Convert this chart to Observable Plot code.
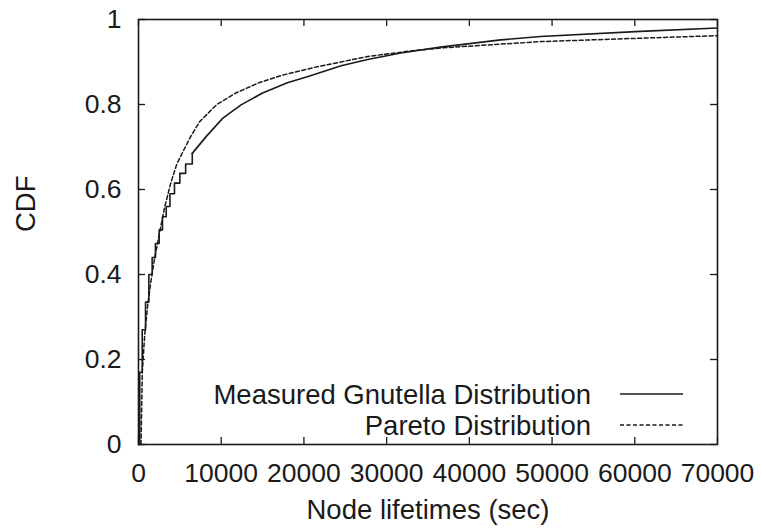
<!DOCTYPE html>
<html>
<head>
<meta charset="utf-8">
<script src="https://cdn.jsdelivr.net/npm/d3@7"></script>
<script src="https://cdn.jsdelivr.net/npm/@observablehq/plot@0.6"></script>
<style>
  html, body { margin: 0; padding: 0; background: #fff; }
  #chart svg { display: block; }
</style>
</head>
<body>
<div id="chart"></div>
<script>
// Measured Gnutella node lifetimes: empirical CDF (seconds, cumulative fraction)
const measuredSec = [0, 150, 450, 850, 1250, 1650, 2050, 2500, 2900, 3350, 3800, 4350, 5000, 5700, 6500,
  8200, 10200, 12400, 15000, 18000, 20500, 24500, 27700, 31700, 36500, 43800, 48600, 60700, 70000];
const measuredCdf = [0, 0.17, 0.27, 0.335, 0.40, 0.44, 0.473, 0.505, 0.536, 0.56, 0.59, 0.615, 0.638, 0.66, 0.685,
  0.725, 0.768, 0.799, 0.827, 0.851, 0.866, 0.891, 0.906, 0.921, 0.935, 0.952, 0.96, 0.972, 0.980];

// Fitted Pareto distribution
const paretoSec = [300, 460, 760, 1120, 1550, 1970, 2610, 3180, 3900, 4630, 5480, 6320, 7410, 9470,
  11760, 14540, 17200, 21190, 24460, 27720, 32920, 36550, 43800, 48630, 60720, 70000];
const paretoCdf = [0, 0.17, 0.26, 0.33, 0.39, 0.44, 0.505, 0.56, 0.615, 0.66, 0.693, 0.725, 0.76, 0.80,
  0.827, 0.851, 0.868, 0.887, 0.900, 0.913, 0.926, 0.933, 0.942, 0.948, 0.956, 0.962];

const xTicks = [0, 10000, 20000, 30000, 40000, 50000, 60000, 70000];
const yTicks = [0, 0.2, 0.4, 0.6, 0.8, 1];
const yTickLabels = ["0", "0.2", "0.4", "0.6", "0.8", "1"];

const seriesNames = ["Measured Gnutella Distribution", "Pareto Distribution"];

const measured = measuredSec.map((x, i) => ({x, y: measuredCdf[i]}));
const pareto = paretoSec.map((x, i) => ({x, y: paretoCdf[i]}));
// the staircase is visible in the low range; the tail is drawn as a plain line
const stepEnd = 6500;
const measuredSteps = measured.filter(d => d.x <= stepEnd);
const measuredTail = measured.filter(d => d.x >= stepEnd);

const W = 761, H = 531;
const M = {top: 19, right: 44, bottom: 87, left: 138};
const innerW = W - M.left - M.right;
const innerH = H - M.top - M.bottom;
const tickLen = 7;
const ink = "#1a1a1a";
const font = "'Liberation Sans', Arial, Helvetica, sans-serif";
const tickFont = 26.5;
const textFont = 27.5;

const chart = Plot.plot({
  width: W,
  height: H,
  marginTop: M.top,
  marginRight: M.right,
  marginBottom: M.bottom,
  marginLeft: M.left,
  style: {fontFamily: font, fontSize: `${tickFont}px`, color: ink, background: "#fff"},
  x: {domain: [0, 70000], label: null},
  y: {domain: [0, 1], label: null},
  marks: [
    // data
    Plot.line(measuredSteps, {x: "x", y: "y", curve: "step-after", stroke: ink, strokeWidth: 1.6}),
    Plot.line(measuredTail, {x: "x", y: "y", stroke: ink, strokeWidth: 1.6}),
    Plot.line(pareto, {x: "x", y: "y", stroke: ink, strokeWidth: 1.5, strokeDasharray: "4,2.5"}),
    // inward ticks on all four sides
    Plot.tickX(xTicks, {x: d => d, insetTop: innerH - tickLen, stroke: ink, strokeWidth: 1.3}),
    Plot.tickX(xTicks, {x: d => d, insetBottom: innerH - tickLen, stroke: ink, strokeWidth: 1.3}),
    Plot.tickY(yTicks, {y: d => d, insetRight: innerW - tickLen, stroke: ink, strokeWidth: 1.3}),
    Plot.tickY(yTicks, {y: d => d, insetLeft: innerW - tickLen, stroke: ink, strokeWidth: 1.3}),
    Plot.frame({stroke: ink, strokeWidth: 1.6}),
    // tick labels
    Plot.axisX(xTicks, {tickSize: 0, tickPadding: 19, tickFormat: d => String(d), fontSize: tickFont, label: null}),
    Plot.axisY(yTicks, {tickSize: 0, tickPadding: 17, tickFormat: (d, i) => yTickLabels[i], fontSize: tickFont, label: null}),
    // axis titles
    Plot.text(["Node lifetimes (sec)"], {frameAnchor: "bottom", dy: 74, fontSize: textFont, fill: ink}),
    Plot.text(["CDF"], {frameAnchor: "left", dx: -112, rotate: -90, fontSize: textFont, fill: ink})
  ]
});

// key, drawn in the lower-right corner of the frame
const right = W - M.right;
const bottom = H - M.bottom;
const key = d3.select(chart).append("g")
  .attr("font-family", font)
  .attr("font-size", textFont)
  .attr("fill", ink);
const rows = [
  {name: seriesNames[0], dash: null, base: bottom - 40},
  {name: seriesNames[1], dash: "4,2.5", base: bottom - 9}
];
for (const r of rows) {
  key.append("text")
    .attr("x", right - 126)
    .attr("y", r.base)
    .attr("text-anchor", "end")
    .text(r.name);
  key.append("line")
    .attr("x1", right - 97)
    .attr("x2", right - 34)
    .attr("y1", r.base - 10)
    .attr("y2", r.base - 10)
    .attr("stroke", ink)
    .attr("stroke-width", r.dash ? 1.3 : 1.6)
    .attr("stroke-dasharray", r.dash);
}

document.getElementById("chart").appendChild(chart);
</script>
</body>
</html>
